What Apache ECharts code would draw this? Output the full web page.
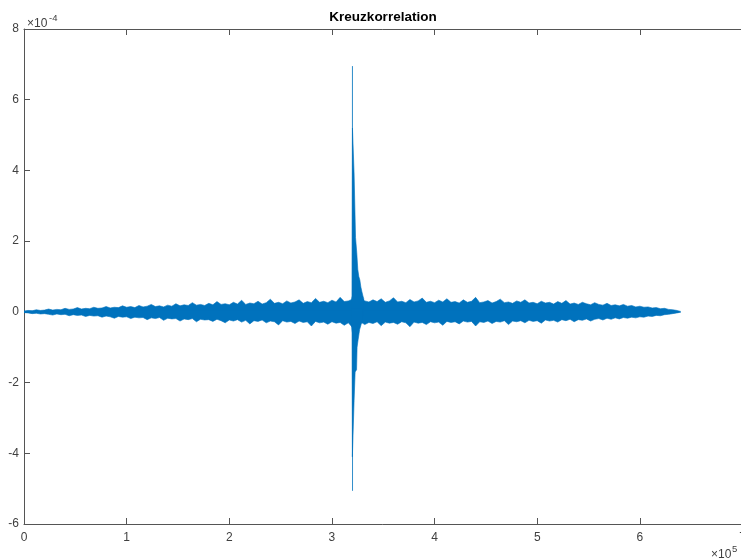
<!DOCTYPE html>
<html>
<head>
<meta charset="utf-8">
<title>Kreuzkorrelation</title>
<script src="https://cdn.jsdelivr.net/npm/echarts@6/dist/echarts.min.js"></script>
<style>
  html, body { margin: 0; padding: 0; background: #fff; }
  #chart { width: 741px; height: 559px; }
</style>
</head>
<body>
<div id="chart"></div>
<script>
// Lag axis in units of 1e5 samples, correlation values in units of 1e-4.
const xTicks = [0, 1, 2, 3, 4, 5, 6, 7];
const yTicks = [-6, -4, -2, 0, 2, 4, 6, 8];

// Noise band: lag grid step (x 1e5) and upper / lower envelope (x 1e-4)
const bandStep = 0.04;
const bandUpper = [
  0.02, 0.04, 0.03, 0.06, 0.04, 0.05, 0.08, 0.05, 0.07, 0.06, 0.10, 0.07, 0.08, 0.12, 0.08, 0.10, 0.09, 0.13, 0.10, 0.11, 0.15, 0.11, 0.13, 0.12, 0.17,
  0.13, 0.15, 0.12, 0.18, 0.14, 0.16, 0.21, 0.15, 0.17, 0.14, 0.19, 0.16, 0.23, 0.17, 0.20, 0.18, 0.26, 0.19, 0.21, 0.18, 0.24, 0.20, 0.29, 0.21, 0.23,
  0.20, 0.27, 0.22, 0.33, 0.21, 0.25, 0.23, 0.30, 0.22, 0.26, 0.36, 0.24, 0.27, 0.23, 0.31, 0.25, 0.28, 0.34, 0.24, 0.29, 0.26, 0.38, 0.27, 0.30, 0.26,
  0.33, 0.28, 0.41, 0.29, 0.31, 0.36, 0.30, 0.42, 0.31, 0.28, 0.34, 0.29, 0.37, 0.27, 0.31, 0.40, 0.28, 0.30, 0.26, 0.35, 0.28, 0.31, 0.39, 0.27, 0.30,
  0.26, 0.33, 0.28, 0.37, 0.27, 0.29, 0.25, 0.34, 0.27, 0.30, 0.41, 0.26, 0.28, 0.32, 0.25, 0.29, 0.36, 0.26, 0.28, 0.24, 0.31, 0.27, 0.34, 0.25, 0.27,
  0.23, 0.30, 0.25, 0.27, 0.22, 0.29, 0.24, 0.32, 0.22, 0.25, 0.21, 0.27, 0.23, 0.20, 0.26, 0.21, 0.19, 0.24, 0.18, 0.20, 0.17, 0.21, 0.16, 0.18, 0.14,
  0.16, 0.13, 0.14, 0.11, 0.12, 0.09, 0.10, 0.07, 0.06, 0.04, 0.01
];
const bandLower = [
  -0.02, -0.03, -0.05, -0.04, -0.06, -0.05, -0.07, -0.09, -0.06, -0.08, -0.07, -0.11, -0.08, -0.10, -0.09, -0.13, -0.10, -0.12, -0.11, -0.15, -0.12, -0.14, -0.18, -0.13, -0.15,
  -0.14, -0.19, -0.15, -0.17, -0.16, -0.22, -0.17, -0.19, -0.16, -0.24, -0.18, -0.20, -0.19, -0.26, -0.20, -0.22, -0.19, -0.28, -0.21, -0.23, -0.22, -0.27, -0.21, -0.25, -0.31,
  -0.23, -0.26, -0.22, -0.29, -0.24, -0.34, -0.25, -0.27, -0.23, -0.31, -0.26, -0.28, -0.37, -0.25, -0.29, -0.27, -0.33, -0.26, -0.30, -0.28, -0.40, -0.27, -0.31, -0.29, -0.35,
  -0.28, -0.32, -0.30, -0.38, -0.31, -0.44, -0.33, -0.29, -0.36, -0.30, -0.33, -0.28, -0.39, -0.29, -0.32, -0.30, -0.35, -0.28, -0.31, -0.42, -0.29, -0.32, -0.30, -0.36, -0.28,
  -0.31, -0.29, -0.38, -0.27, -0.30, -0.28, -0.34, -0.26, -0.29, -0.27, -0.40, -0.28, -0.30, -0.26, -0.33, -0.27, -0.29, -0.25, -0.36, -0.26, -0.28, -0.25, -0.31, -0.24, -0.27,
  -0.25, -0.32, -0.23, -0.26, -0.24, -0.29, -0.22, -0.25, -0.21, -0.28, -0.22, -0.24, -0.20, -0.26, -0.21, -0.19, -0.23, -0.18, -0.21, -0.17, -0.20, -0.16, -0.18, -0.15, -0.17,
  -0.14, -0.15, -0.12, -0.13, -0.10, -0.11, -0.08, -0.07, -0.05, -0.03, -0.01
];

// Main correlation peak and its decaying ringing
const spikeUpperLag = [3.190, 3.196, 3.200, 3.214, 3.216, 3.224, 3.230, 3.242, 3.252, 3.262, 3.272, 3.282, 3.292, 3.302, 3.312];
const spikeUpper    = [0.35,  0.45,  5.20,  5.20,  3.90,  3.85,  2.10,  1.67,  1.20,  1.00,  0.90,  0.70,  0.57,  0.45,  0.35];
const spikeLowerLag = [3.190, 3.196, 3.199, 3.212, 3.216, 3.222, 3.226, 3.240, 3.245, 3.255, 3.270, 3.285, 3.302];
const spikeLower    = [-0.35, -0.60, -4.10, -4.10, -2.50, -2.45, -1.70, -1.64, -1.00, -0.79, -0.50, -0.35, -0.23];

// Single-sample extremes of the peak
const peakLag    = [3.199, 3.2000, 3.2006, 3.201];
const peakValues = [0.40,  6.95,  -5.06,   0.00];

const lineColor = '#0072BD';
const axisColor = '#555555';
const labelColor = '#404040';
const fontFamily = '"Liberation Sans", Arial, Helvetica, sans-serif';

const pairs = (xs, ys) => ys.map((v, i) => [xs[i], v]);
const bandLag = bandUpper.map((_, i) => +(i * bandStep).toFixed(4));

// Filled envelope; the fill base sits slightly past zero so the two halves overlap without a seam
const areaSeries = (name, data, base) => ({
  name,
  type: 'line',
  data,
  symbol: 'none',
  showSymbol: false,
  silent: true,
  lineStyle: { color: lineColor, width: 0.6 },
  areaStyle: { color: lineColor, opacity: 1, origin: base },
  z: 2
});

const xAxisBase = {
  type: 'value',
  min: 0,
  max: 7,
  interval: 1,
  axisLine: { show: true, onZero: false, lineStyle: { color: axisColor, width: 1 } },
  axisTick: { show: true, inside: true, length: 6, lineStyle: { color: axisColor } },
  splitLine: { show: false }
};

const chart = echarts.init(document.getElementById('chart'), null, { renderer: 'canvas' });
chart.setOption({
  animation: false,
  backgroundColor: '#ffffff',
  title: {
    text: 'Kreuzkorrelation',
    left: 383,
    top: 10,
    padding: 0,
    textAlign: 'center',
    textStyle: { fontFamily, fontSize: 13.5, fontWeight: 'bold', color: '#000000' }
  },
  grid: { left: 24, top: 29, width: 718.5, height: 495, containLabel: false, outerBoundsMode: 'none' },
  xAxis: [
    Object.assign({}, xAxisBase, {
      position: 'bottom',
      axisLabel: {
        show: true, margin: 8, fontFamily, fontSize: 12, color: labelColor,
        formatter: v => xTicks.includes(v) ? String(v) : ''
      }
    }),
    Object.assign({}, xAxisBase, {
      position: 'top',
      axisLabel: { show: false }
    })
  ],
  yAxis: {
    type: 'value',
    min: -6,
    max: 8,
    interval: 2,
    axisLine: { show: true, onZero: false, lineStyle: { color: axisColor, width: 1 } },
    axisTick: { show: true, inside: true, length: 6, lineStyle: { color: axisColor } },
    axisLabel: {
      show: true, margin: 5, fontFamily, fontSize: 12, color: labelColor,
      formatter: v => yTicks.includes(v) ? String(v) : ''
    },
    splitLine: { show: false }
  },
  graphic: [
    { type: 'text', left: 27, top: 18, style: { text: '\u00d710', font: '12px ' + fontFamily, fill: labelColor } },
    { type: 'text', left: 49, top: 13, style: { text: '-4', font: '9.5px ' + fontFamily, fill: labelColor } },
    { type: 'text', left: 711, top: 549, style: { text: '\u00d710', font: '12px ' + fontFamily, fill: labelColor } },
    { type: 'text', left: 732, top: 544, style: { text: '5', font: '9.5px ' + fontFamily, fill: labelColor } }
  ],
  series: [
    areaSeries('band upper', pairs(bandLag, bandUpper), -0.03),
    areaSeries('band lower', pairs(bandLag, bandLower), 0.03),
    areaSeries('peak upper', pairs(spikeUpperLag, spikeUpper), -0.1),
    areaSeries('peak lower', pairs(spikeLowerLag, spikeLower), 0.1),
    {
      name: 'peak extremes',
      type: 'line',
      data: pairs(peakLag, peakValues),
      symbol: 'none',
      showSymbol: false,
      silent: true,
      lineStyle: { color: lineColor, width: 1, opacity: 0.55 },
      z: 1
    }
  ]
});
</script>
</body>
</html>
